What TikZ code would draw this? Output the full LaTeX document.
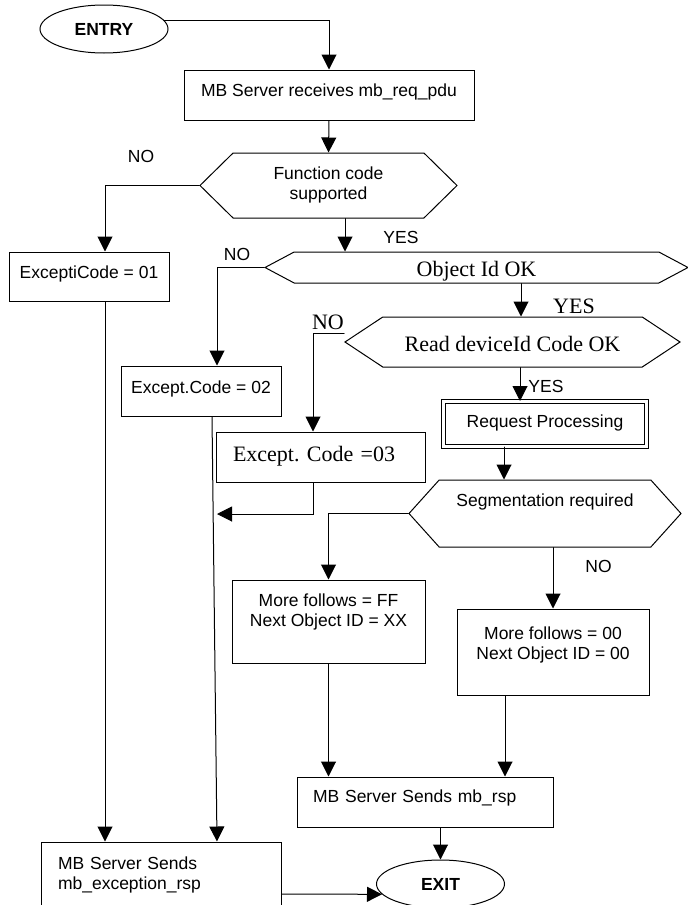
\documentclass[tikz,border=0pt]{standalone}
\usepackage{fontspec}
\setmainfont{Liberation Sans}
\newfontfamily\timesfont{Liberation Serif}
\usetikzlibrary{arrows.meta,shapes.geometric,shapes.symbols}

\begin{document}
\begin{tikzpicture}[x=1pt,y=-1pt,line width=1pt,line cap=round,
    >={Triangle[length=15pt,width=15pt]},
    every node/.style={font=\fontsize{17.5}{20}\selectfont},
    term/.style={draw,ellipse,minimum width=128pt,minimum height=48pt,inner sep=0pt,
        font=\fontsize{17.5}{20}\selectfont\bfseries},
    procbox/.style={draw,rectangle,text height=13pt},
    hexa/.style={draw,signal,signal to=east and west,inner sep=0pt,text height=13pt},
    serif/.style={font=\fontsize{22}{26}\selectfont\timesfont}]
        \useasboundingbox (0,0) rectangle (688,905);
        % top: entry and the three tests
        \node[term] (entry) at (104,29) {ENTRY};
        \node[procbox,minimum width=290pt,minimum height=50pt,text depth=10.5pt] (recv) at (329,95) {MB Server receives mb\_req\_pdu};
        \node[hexa,minimum width=257pt,minimum height=65pt,signal pointer angle=89,align=center,text height=30pt,text depth=1.5pt] (fcode) at (328.5,185.5) {Function code\\supported};
        \node[procbox,minimum width=160pt,minimum height=49pt,text depth=9.5pt] (exc1) at (89,276.5) {ExceptiCode = 01};
        \node[hexa,serif,minimum width=423pt,minimum height=31pt,signal pointer angle=56,text height=20pt,text depth=1.4pt] (objid) at (476.5,267.5) {Object Id OK};
        \node[procbox,minimum width=160pt,minimum height=50pt,text depth=8.5pt] (exc2) at (201,391) {Except.Code = 02};
        \node[hexa,serif,minimum width=335pt,minimum height=50pt,signal pointer angle=67,text height=20pt,text depth=0.4pt] (devid) at (512.5,342) {Read deviceId Code OK};
        \node[procbox,serif,text width=175pt,inner xsep=17pt,align=left,minimum height=50pt,text height=16pt,text depth=6.4pt] (exc3) at (320.5,457) {Except.\ Code =03};
        % processing and segmentation
        \node[procbox,double,double distance=3pt,minimum width=203pt,minimum height=45pt,text depth=5.5pt] (proc) at (545,424) {Request Processing};
        \node[hexa,minimum width=272pt,minimum height=67pt,signal pointer angle=96,text depth=26.5pt] (segm) at (545,513.5) {Segmentation required};
        \node[procbox,align=center,minimum width=193pt,minimum height=83pt,text depth=3.5pt] (more) at (328.5,621.5) {More follows = FF\\Next Object ID = XX};
        \node[procbox,align=center,minimum width=192pt,minimum height=86pt,text height=20pt,text depth=4.5pt] (last) at (553,652) {More follows = 00\\Next Object ID = 00};
        % bottom: responses and exit
        \node[procbox,text width=224pt,inner xsep=16pt,align=left,minimum height=50pt,text depth=11.5pt] (rspsend) at (425,802) {MB Server Sends mb\_rsp};
        \node[procbox,text width=206pt,inner xsep=17pt,align=left,minimum height=84pt,text depth=42.5pt] (excsend) at (161,884) {MB Server Sends\\mb\_exception\_rsp};
        \node[term] (exit) at (440.5,884) {EXIT};
        % branch labels
        \node (no1) at (141,156) {NO};
        \node (yes1) at (401,237.5) {YES};
        \node (no2) at (237,254) {NO};
        \node[serif] (yes2) at (574,306.5) {YES};
        \node[serif] (no3) at (328,322.5) {NO};
        \node (yes3) at (546,386) {YES};
        \node (no4) at (598.5,566.5) {NO};
        \coordinate (join) at (217,514);
        % arrows
        \draw[->] (entry.8) -| (recv.north);
        \draw[->] (recv.south) -- (fcode.north);
        \draw[->] (fcode.west) -| ([xshift=16pt]exc1.north);      % NO
        \draw[->] ([xshift=16.5pt]fcode.south) -- ([xshift=16.5pt]fcode.south |- objid.north);   % YES
        \draw[->] (objid.west) -| ([xshift=16pt]exc2.north);      % NO
        \draw[->] ([xshift=44.5pt]objid.south) -- ([xshift=44.5pt]objid.south |- devid.north);
        \draw[->] ([yshift=9pt]devid.west) -| ([xshift=-7.5pt]exc3.north);
        \draw[->] ([xshift=7.5pt]devid.south) -- ([xshift=7.5pt]devid.south |- proc.north);
        \draw[->] ([xshift=-41pt]proc.south) -- ([xshift=-41pt]proc.south |- segm.north);
        \draw[->] (segm.west) -| (more.north);
        \draw[->] (segm.south -| last.north) -- (last.north);     % NO
        \draw[->] ([xshift=-7.5pt]exc3.south) |- (join);
        \draw[->] ([xshift=16pt]exc1.south) -- ([xshift=16pt]exc1.south |- excsend.north);
        \draw[->] ([xshift=11pt]exc2.south) -- ([xshift=56pt]excsend.north);
        \draw[->] (more.south) -- (more.south |- rspsend.north);
        \draw[->] ([xshift=-48pt]last.south) -- ([xshift=-48pt]last.south |- rspsend.north);
        \draw[->] (rspsend.south -| exit.north) -- (exit.north);
        \draw[->] ([yshift=-10pt]excsend.east) -- (exit.190);
\end{tikzpicture}
\end{document}
